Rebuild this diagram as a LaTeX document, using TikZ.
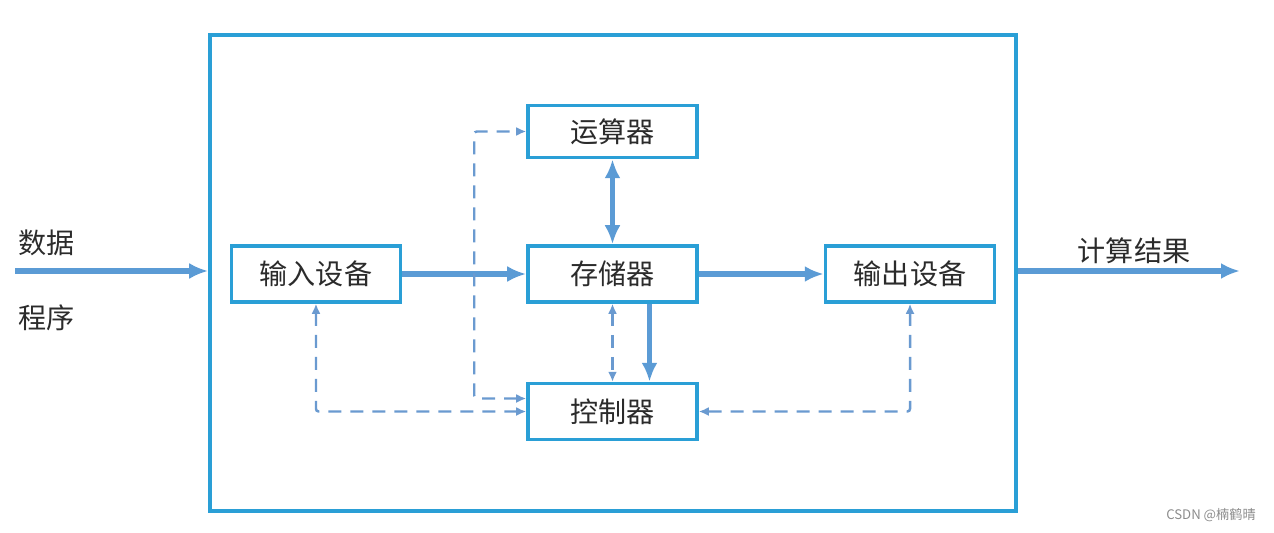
\documentclass[tikz,border=0pt]{standalone}
\usepackage{fontspec}
\setmainfont{Noto Sans CJK SC}
\usepackage{tikz}
\usetikzlibrary{arrows.meta,positioning,calc}
\usepackage{xcolor}
\definecolor{framecol}{HTML}{2A9FD6}
\definecolor{arrowcol}{HTML}{5B9BD5}
\definecolor{dashcol}{HTML}{6A9AD0}
\definecolor{textcol}{HTML}{2B2B2B}
\tikzset{
  unit/.style={draw=framecol, line width=2pt, align=center, minimum width=3.38cm, minimum height=1.12cm, inner sep=0pt, text=textcol, font=\fontsize{16}{18}\selectfont},
  sysframe/.style={draw=framecol, line width=2pt, minimum width=16.12cm, minimum height=9.52cm, inner sep=0pt},
  label/.style={text=textcol, font=\fontsize{16}{18}\selectfont, inner sep=0pt},
  arrow/.style={-{Latex[length=3.8mm,width=3.2mm]}, draw=arrowcol, line width=3.2pt},
  dblarrow/.style={{Latex[length=3.8mm,width=3.2mm]}-{Latex[length=3.8mm,width=3.2mm]}, draw=arrowcol, line width=3.2pt},
  dasharrow/.style={{Latex[length=2mm,width=1.8mm]}-{Latex[length=2mm,width=1.8mm]}, draw=dashcol, line width=1.4pt, dash pattern=on 2.6mm off 1.8mm, rounded corners=1.5pt}
}

\begin{document}
\begin{tikzpicture}[node distance=2.48cm]
\useasboundingbox (0,0) rectangle (25.48,10.64);
\node[sysframe] (sys) at (12.26,5.18) {};
\node[unit] (mem) at (12.25,5.16) {存储器};
\node[unit, left=of mem] (in) {输入设备};
\node[unit, right=2.5cm of mem] (out) {输出设备};
\node[unit, minimum height=1.04cm, above=1.7cm of mem] (alu) {运算器};
\node[unit, below=1.56cm of mem] (ctl) {控制器};
% data path
\coordinate (src) at (0.3,5.22);
\coordinate (dst) at (24.8,5.22);
\draw[arrow] (src) -- (src -| sys.west);
\draw[arrow] (dst -| sys.east) -- (dst);
\draw[arrow] (in) -- (mem);
\draw[arrow] (mem) -- (out);
\draw[dblarrow] (alu) -- (mem);
\draw[arrow] ([xshift=7.4mm]mem.south) -- ([xshift=7.4mm]ctl.north);
% control signals
\draw[dasharrow] (mem.south) -- (ctl.north);
\draw[dasharrow] (in.south) |- (ctl.west);
\draw[dasharrow] (out.south) |- (ctl.east);
\draw[dasharrow] ([yshift=2.6mm]ctl.west) -| ([xshift=-1.04cm]alu.west) -- (alu.west);
% texts
\node[label, anchor=west] (data) at (0.36,5.78) {数据};
\node[label, anchor=west] (prog) at (0.36,4.28) {程序};
\node[label] (res) at (22.68,5.62) {计算结果};
\node[text=black!45, font=\fontsize{7.5}{9}\selectfont, inner sep=0pt] (mark) at (24.22,0.34) {CSDN @楠鹤晴};
\end{tikzpicture}
\end{document}
